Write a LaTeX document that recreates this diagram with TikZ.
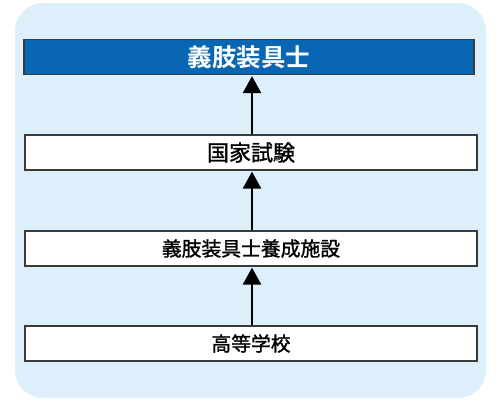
\documentclass[tikz,border=0pt]{standalone}
\usepackage{fontspec}
\newfontfamily\cjk[FakeBold=1.3]{Noto Sans CJK JP}
\newfontfamily\cjkb{Noto Sans CJK JP Bold}
\usetikzlibrary{arrows.meta}
\definecolor{bgblue}{HTML}{DEEFFC}
\definecolor{topblue}{HTML}{0966B3}
\definecolor{edge}{HTML}{3A3A3A}
\tikzset{
  stagebox/.style={draw=edge, line width=1.2pt, fill=white, minimum width=450pt, minimum height=35pt, inner sep=0pt, font=\cjk, text=black},
  topbox/.style={stagebox, fill=topblue, text=white, font=\cjkb},
  uparrow/.style={line width=2.4pt, -{Triangle[length=17pt, width=18pt]}, shorten >=1pt}
}
\begin{document}
\begin{tikzpicture}[x=1pt,y=-1pt]
\useasboundingbox (0,0) rectangle (500,400);
\fill[bgblue, rounded corners=28pt] (15,3) rectangle (486,398);
\node[topbox] (t) at (249,57) {\fontsize{24.5}{28}\selectfont 義肢装具士};
\node[stagebox, minimum width=452pt] (k) at (251,152.5) {\fontsize{22}{25}\selectfont 国家試験};
\node[stagebox, minimum width=452pt] (y) at (251,248.5) {\fontsize{19.8}{23}\selectfont 義肢装具士養成施設};
\node[stagebox, minimum width=452pt] (h) at (251,343.5) {\fontsize{19.8}{23}\selectfont 高等学校};
\draw[uparrow] (k.north -| 252,0) -- (t.south -| 252,0);
\draw[uparrow] (y.north -| 252,0) -- (k.south -| 252,0);
\draw[uparrow] (h.north -| 252,0) -- (y.south -| 252,0);
\end{tikzpicture}
\end{document}
